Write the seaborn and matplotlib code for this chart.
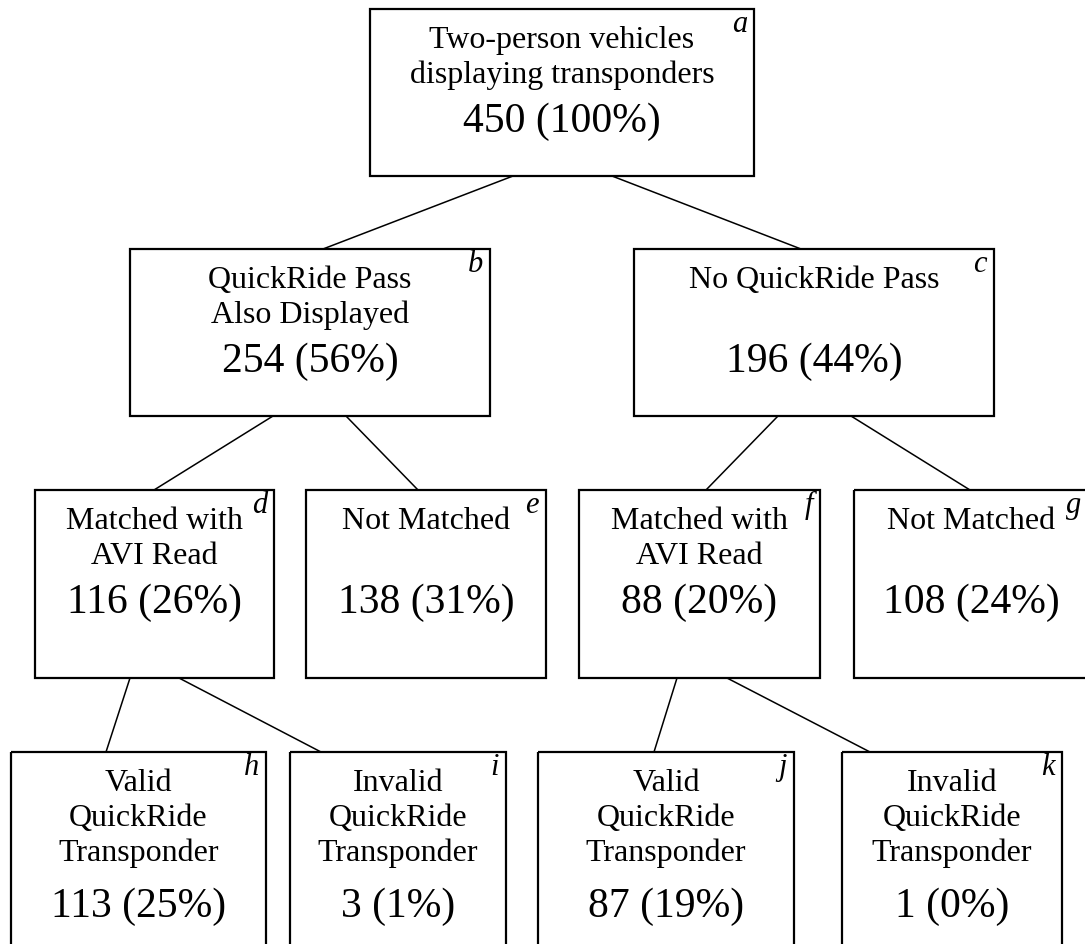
import seaborn as sns
import matplotlib.pyplot as plt
import matplotlib.patches as mpatches
import pandas as pd

# tree data
node_ids = ['a', 'b', 'c', 'd', 'e', 'f', 'g', 'h', 'i', 'j', 'k']
node_labels = [
    ['Two-person vehicles', 'displaying transponders'],
    ['QuickRide Pass', 'Also Displayed'],
    ['No QuickRide Pass', ''],
    ['Matched with', 'AVI Read'],
    ['Not Matched', ''],
    ['Matched with', 'AVI Read'],
    ['Not Matched', ''],
    ['Valid', 'QuickRide', 'Transponder'],
    ['Invalid', 'QuickRide', 'Transponder'],
    ['Valid', 'QuickRide', 'Transponder'],
    ['Invalid', 'QuickRide', 'Transponder'],
]
node_counts = [450, 254, 196, 116, 138, 88, 108, 113, 3, 87, 1]
node_parents = [None, 'a', 'a', 'b', 'b', 'c', 'c', 'd', 'd', 'f', 'f']
total = node_counts[0]

# layout in pixels: left, right, top, bottom
boxes = {
    'a': (370, 754, 9, 176),
    'b': (130, 490, 249, 416),
    'c': (634, 994, 249, 416),
    'd': (35, 274, 490, 678),
    'e': (306, 546, 490, 678),
    'f': (579, 820, 490, 678),
    'g': (854, 1088, 490, 678),
    'h': (11, 266, 752, 990),
    'i': (290, 506, 752, 990),
    'j': (538, 794, 752, 990),
    'k': (842, 1062, 752, 990),
}
# x where each connector leaves the parent and enters the child
edge_x = {
    'b': (513, 323), 'c': (612, 801), 'd': (273, 154), 'e': (346, 418),
    'f': (778, 706), 'g': (851, 970), 'h': (130, 106), 'i': (179, 321),
    'j': (677, 654), 'k': (727, 870),
}

sns.set_theme(style='white')
plt.rcParams['font.family'] = ['Liberation Serif', 'DejaVu Serif']
plt.rcParams['text.color'] = 'black'

fig = plt.figure(figsize=(10.85, 9.44), dpi=100)
ax = fig.add_axes([0, 0, 1, 1])

rows = []
for nid, parent in zip(node_ids, node_parents):
    if parent is None:
        continue
    px, cx = edge_x[nid]
    rows.append({'edge': nid, 'x': px, 'y': boxes[parent][3]})
    rows.append({'edge': nid, 'x': cx, 'y': boxes[nid][2]})
edges = pd.DataFrame(rows)
sns.lineplot(data=edges, x='x', y='y', units='edge', estimator=None, sort=False,
             color='black', lw=1.1, ax=ax, legend=False)

for nid, lines, n in zip(node_ids, node_labels, node_counts):
    l, r, t, b = boxes[nid]
    ax.add_patch(mpatches.Rectangle((l, t), r - l, b - t, fill=False,
                                    ec='black', lw=1.6, zorder=3))
    cx = (l + r) / 2
    for i, line in enumerate(lines):
        ax.text(cx, t + 39 + 35 * i, line, ha='center', va='baseline',
                fontsize=23, color='black')
    pct = round(100 * n / total)
    gap = 56 if len(lines) > 2 else 49
    ax.text(cx, t + 39 + 35 * (len(lines) - 1) + gap, f'{n} ({pct}%)',
            ha='center', va='baseline', fontsize=30, color='black')
    ax.text(r - 7, t + 23, nid, ha='right', va='baseline', fontsize=22,
            style='italic', color='black')

ax.set_xlim(0, 1085)
ax.set_ylim(944, 0)
ax.axis('off')

fig.savefig('out.png', dpi=100, facecolor='white')
